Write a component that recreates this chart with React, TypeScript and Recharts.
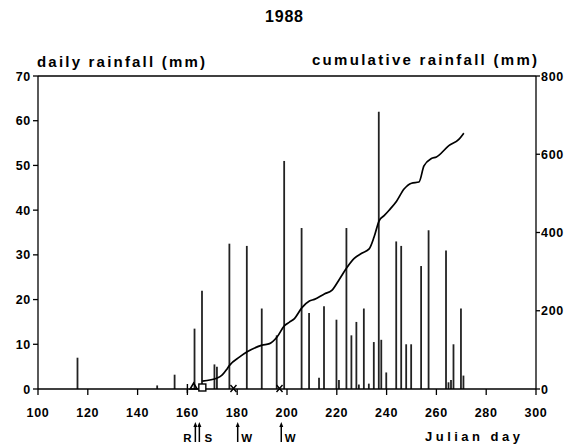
import { ComposedChart, Bar, Line, XAxis, YAxis, ReferenceLine, ReferenceDot } from "recharts";

// daily rainfall (Julian day -> mm)
const rainDays = [116, 148, 155, 163, 166, 171, 172, 177, 184, 190, 196, 199, 206, 209, 213, 215, 220, 221, 224, 226, 228, 229, 231, 233, 235, 237, 238, 240, 244, 246, 248, 250, 254, 257, 264, 265, 266, 267, 270, 271];
const rainMm = [7, 0.8, 3.2, 13.5, 22, 5.5, 5, 32.5, 32, 18, 12, 51, 36, 17, 2.5, 18.5, 15.5, 2, 36, 12, 15, 1, 18, 1.2, 10.5, 62, 11, 3.7, 33, 32, 10, 10, 27.5, 35.5, 31, 1.5, 2, 10, 18, 3];

// cumulative rainfall curve (Julian day -> mm)
const cumDays = [166, 172, 174, 176, 177, 181, 184, 190, 193, 196, 199, 201, 203, 206, 209, 211, 215, 218, 221, 224, 227, 230, 233, 235, 237, 239, 241, 244, 247, 250, 253, 255, 258, 260, 265, 269, 271];
const cumMm = [20, 28, 36, 52, 61, 82, 95, 112, 116, 133, 162, 171, 180, 208, 225, 229, 243, 252, 280, 310, 334, 347, 358, 389, 430, 443, 457, 480, 511, 526, 529, 570, 589, 593, 622, 638, 654];

const dayTicks = [100, 120, 140, 160, 180, 200, 220, 240, 260, 280, 300];
const dailyTicks = [0, 10, 20, 30, 40, 50, 60, 70];
const cumTicks = [0, 200, 400, 600, 800];

// event symbols on the day axis
const symbolDays = [160, 162.5, 166, 178.5, 197];
const symbolKinds = ["bar", "triangle", "square", "cross", "cross"];

// arrows under the axis
const arrowDays = [163.2, 164.8, 180.2, 197.7];
const arrowLabels = ["R", "S", "W", "W"];
const arrowSides = ["left", "right", "right", "right"];

const FONT = "'Liberation Sans', Arial, sans-serif";
const INK = "#000";

const rows = (() => {
  const map = new Map<number, { day: number; rain?: number; cum?: number }>();
  rainDays.forEach((d, i) => map.set(d, { day: d, rain: rainMm[i] }));
  cumDays.forEach((d, i) => {
    const r = map.get(d) || { day: d };
    r.cum = cumMm[i];
    map.set(d, r);
  });
  return Array.from(map.values()).sort((a, b) => a.day - b.day);
})();

const DayTick = (props: any) => (
  <text x={props.x} y={props.y + 20} textAnchor="middle" fontFamily={FONT} fontWeight="bold" fontSize={12.5} letterSpacing={0.7} fill={INK}>
    {props.payload.value}
  </text>
);

const LeftTick = (props: any) => (
  <text x={props.x} y={props.y + 4.5} textAnchor="end" fontFamily={FONT} fontWeight="bold" fontSize={12.5} letterSpacing={0.7} fill={INK}>
    {props.payload.value}
  </text>
);

const RightTick = (props: any) => (
  <text x={props.x} y={props.y + 4.5} textAnchor="start" fontFamily={FONT} fontWeight="bold" fontSize={12.5} letterSpacing={0.7} fill={INK}>
    {props.payload.value}
  </text>
);

function symbolShape(kind: string) {
  return (p: any) => {
    const { cx, cy } = p;
    if (kind === "triangle")
      return <path d={`M${cx - 3.5},${cy} L${cx + 3.5},${cy} L${cx},${cy - 6} Z`} fill="none" stroke={INK} strokeWidth={1.6} />;
    if (kind === "square")
      return <rect x={cx - 3.5} y={cy - 5} width={7} height={7} fill="#fff" stroke={INK} strokeWidth={1.4} />;
    if (kind === "cross")
      return <path d={`M${cx - 3},${cy - 4} L${cx + 3},${cy + 3} M${cx + 3},${cy - 4} L${cx - 3},${cy + 3}`} stroke={INK} strokeWidth={1.4} />;
    return <line x1={cx} x2={cx} y1={cy - 5} y2={cy + 4} stroke={INK} strokeWidth={1.4} />;
  };
}

function arrowShape(label: string, side: string) {
  return (p: any) => {
    const { cx, cy } = p;
    const top = cy + 33;
    const bottom = cy + 53;
    const tx = side === "left" ? cx - 8 : cx + 9;
    return (
      <g>
        <line x1={cx} x2={cx} y1={top + 3} y2={bottom} stroke={INK} strokeWidth={1.5} />
        <path d={`M${cx - 2},${top + 5} L${cx + 2},${top + 5} L${cx},${top} Z`} fill={INK} />
        <text x={tx} y={bottom} textAnchor="middle" fontFamily={FONT} fontWeight="bold" fontSize={11.5} fill={INK}>
          {label}
        </text>
      </g>
    );
  };
}

export default function App() {
  return (
    <div style={{ position: "absolute", left: 0, top: 0, width: 571, height: 448, background: "#fff" }}>
      <ComposedChart width={571} height={448} data={rows} margin={{ top: 76, right: 0, bottom: 0, left: 0 }}>
        <XAxis
          dataKey="day"
          type="number"
          domain={[100, 300]}
          ticks={dayTicks}
          interval={0}
          height={59}
          tickSize={6}
          axisLine={{ stroke: INK, strokeWidth: 1.5 }}
          tickLine={{ stroke: INK, strokeWidth: 1.3 }}
          tick={<DayTick />}
        />
        <YAxis
          yAxisId="left"
          domain={[0, 70]}
          ticks={dailyTicks}
          interval={0}
          width={38}
          tickSize={5}
          tickMargin={2}
          axisLine={{ stroke: INK, strokeWidth: 1.3 }}
          tickLine={{ stroke: INK, strokeWidth: 1.3 }}
          tick={<LeftTick />}
        />
        <YAxis
          yAxisId="right"
          orientation="right"
          domain={[0, 800]}
          ticks={cumTicks}
          interval={0}
          width={35}
          tickSize={4}
          tickMargin={1}
          axisLine={{ stroke: INK, strokeWidth: 1.3 }}
          tickLine={{ stroke: INK, strokeWidth: 1.3 }}
          tick={<RightTick />}
        />
        <ReferenceLine yAxisId="left" y={70} stroke={INK} strokeWidth={1.5} />
        <Bar yAxisId="left" dataKey="rain" fill="#222" barSize={1.8} isAnimationActive={false} />
        <Line
          yAxisId="right"
          dataKey="cum"
          type="monotone"
          stroke={INK}
          strokeWidth={1.7}
          dot={false}
          connectNulls
          isAnimationActive={false}
        />
        {symbolDays.map((d, i) => (
          <ReferenceDot key={"s" + i} yAxisId="left" x={d} y={0} r={3} ifOverflow="visible" shape={symbolShape(symbolKinds[i])} />
        ))}
        {arrowDays.map((d, i) => (
          <ReferenceDot key={"a" + i} yAxisId="left" x={d} y={0} r={3} ifOverflow="visible" shape={arrowShape(arrowLabels[i], arrowSides[i])} />
        ))}
      </ComposedChart>
      <svg width={571} height={448} style={{ position: "absolute", left: 0, top: 0, pointerEvents: "none" }}>
        <text x={284} y={22} textAnchor="middle" fontFamily={FONT} fontWeight="bold" fontSize={16} textLength={38} fill={INK}>
          1988
        </text>
        <text x={37} y={67} fontFamily={FONT} fontWeight="bold" fontSize={15} textLength={168} fill={INK}>
          daily rainfall (mm)
        </text>
        <text x={312} y={65} fontFamily={FONT} fontWeight="bold" fontSize={15} textLength={225} fill={INK}>
          cumulative rainfall (mm)
        </text>
        <text x={425} y={441} fontFamily={FONT} fontWeight="bold" fontSize={13} textLength={95} fill={INK}>
          Julian day
        </text>
      </svg>
    </div>
  );
}
